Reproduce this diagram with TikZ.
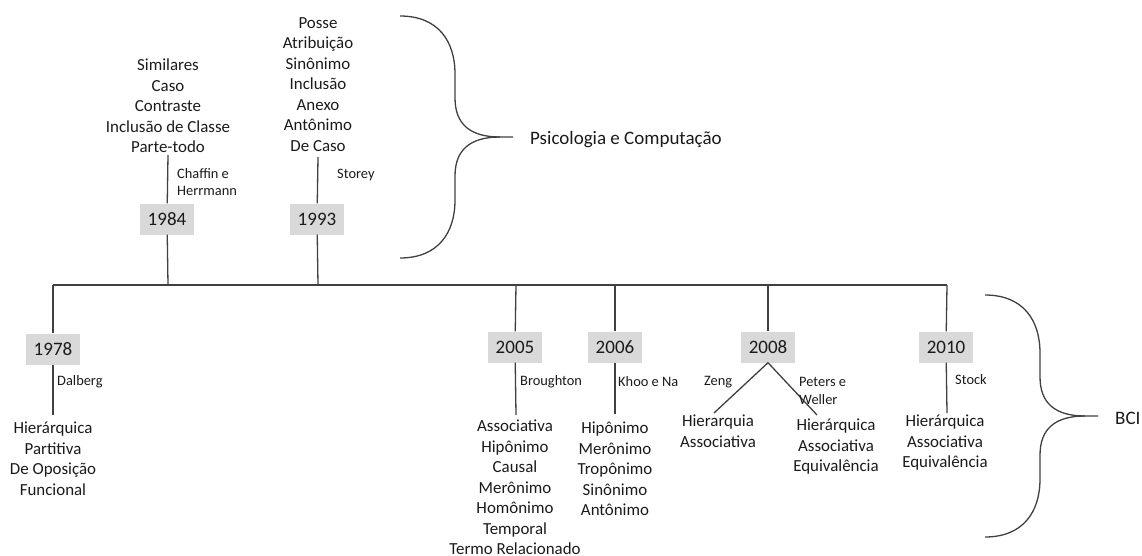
\documentclass[tikz,border=0pt]{standalone}
\usepackage{fontspec}
\setmainfont{Carlito}
\definecolor{linegray}{HTML}{404040}
\definecolor{boxgray}{HTML}{D9D9D9}
\definecolor{ink}{HTML}{1A1A1A}
\begin{document}
\begin{tikzpicture}[x=1pt,y=-1pt,
  every node/.style={text=ink},
  link/.style={draw=linegray,line width=1.3pt},
  yearbox/.style={fill=boxgray,minimum width=54pt,minimum height=31pt,inner sep=0pt,
    font=\fontsize{19}{22}\selectfont},
  terms/.style={align=center,inner sep=0pt,anchor=north,
    font=\fontsize{16.9}{20.5}\selectfont},
  author/.style={align=left,inner sep=0pt,anchor=west,
    font=\fontsize{14.4}{17.5}\selectfont},
  group/.style={anchor=west,inner sep=0pt,font=\fontsize{19}{23}\selectfont},
  bracket/.style={draw=linegray,line width=1.3pt},
  curly/.pic={
    \draw[bracket] (0,0) .. controls (38,0) and (55,25) .. (55,58) -- (55,82)
      .. controls (55,108) and (70,121) .. (100,121) -- (113,121);
    \draw[bracket] (0,242) .. controls (38,242) and (55,217) .. (55,184) -- (55,160)
      .. controls (55,134) and (70,121) .. (100,121);
  }]
\useasboundingbox (0,0) rectangle (1142,556);

% junctions on the time axis
\coordinate (j78) at (53,285);
\coordinate (j84) at (168,285);
\coordinate (j93) at (318,285);
\coordinate (j05) at (516,285);
\coordinate (j06) at (615,285);
\coordinate (j08) at (768,285);
\coordinate (j10) at (947,285);

% free ends of the branches
\coordinate (t84) at (168,155);
\coordinate (t93) at (318,157);
\coordinate (e78) at (53,415);
\coordinate (e05) at (516,415);
\coordinate (e06) at (615,414);
\coordinate (e08a) at (714,413);
\coordinate (e08b) at (817,415);
\coordinate (e10) at (947,413);

% year boxes
\node[yearbox] (y78) at (53,349) {1978};
\node[yearbox] (y84) at (167,219) {1984};
\node[yearbox] (y93) at (317,219) {1993};
\node[yearbox] (y05) at (515,347) {2005};
\node[yearbox] (y06) at (615,347) {2006};
\node[yearbox] (y08) at (768,347) {2008};
\node[yearbox] (y10) at (946,347) {2010};

% axis and branches
\draw[link] (j78) -- (j10);
\draw[link] (j78) -- (y78);
\draw[link] (y78) -- (e78);
\draw[link] (j84) -- (y84);
\draw[link] (y84) -- (t84);
\draw[link] (j93) -- (y93);
\draw[link] (y93) -- (t93);
\draw[link] (j05) -- (y05);
\draw[link] (y05) -- (e05);
\draw[link] (j06) -- (y06);
\draw[link] (y06) -- (e06);
\draw[link] (j08) -- (y08);
\draw[link] (y08.south) -- (e08a);
\draw[link] (y08.south) -- (e08b);
\draw[link] (j10) -- (y10);
\draw[link] (y10) -- (e10);

% relation lists
\node[terms] (l84) at (168,59) {Similares\\Caso\\Contraste\\Inclusão de Classe\\Parte-todo};
\node[terms] (l93) at (318,17) {Posse\\Atribuição\\Sinônimo\\Inclusão\\Anexo\\Antônimo\\De Caso};
\node[terms] (l78) at (53,422) {Hierárquica\\Partitiva\\De Oposição\\Funcional};
\node[terms] (l05) at (515,420) {Associativa\\Hipônimo\\Causal\\Merônimo\\Homônimo\\Temporal\\Termo Relacionado};
\node[terms] (l06) at (615,422) {Hipônimo\\Merônimo\\Tropônimo\\Sinônimo\\Antônimo};
\node[terms] (l08a) at (718,415) {Hierarquia\\Associativa};
\node[terms] (l08b) at (836,419) {Hierárquica\\Associativa\\Equivalência};
\node[terms] (l10) at (945,415) {Hierárquica\\Associativa\\Equivalência};

% authors
\node[author] (a84) at (177,182) {Chaffin e\\Herrmann};
\node[author] (a93) at (337,175) {Storey};
\node[author] (a78) at (57,382) {Dalberg};
\node[author] (a05) at (520,382) {Broughton};
\node[author] (a06) at (618,382) {Khoo e Na};
\node[author] (a08a) at (704,382) {Zeng};
\node[author] (a08b) at (799,391) {Peters e\\Weller};
\node[author] (a10) at (955,380) {Stock};

% grouping braces
\pic at (400,16) {curly};
\pic at (985,295) {curly};
\node[group] (g1) at (530,140) {Psicologia e Computação};
\node[group] (g2) at (1115,418) {BCI};
\end{tikzpicture}
\end{document}
